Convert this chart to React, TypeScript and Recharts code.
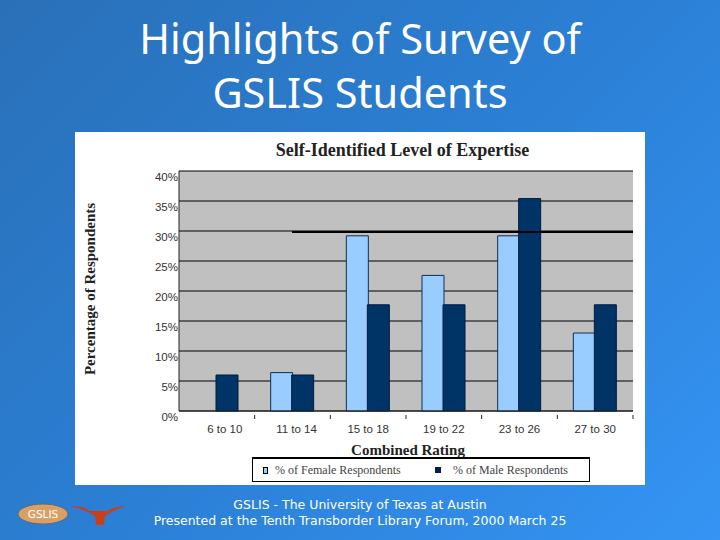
import React from "react";
import { BarChart, Bar, XAxis, YAxis, CartesianGrid, Legend, ReferenceLine } from "recharts";

const categories = ["6 to 10", "11 to 14", "15 to 18", "19 to 22", "23 to 26", "27 to 30"];
const femaleValues = [0, 6.4, 29.2, 22.6, 29.2, 13];
const maleValues = [6, 6, 17.7, 17.7, 35.4, 17.7];
const yTicks = [0, 5, 10, 15, 20, 25, 30, 35, 40];
const titleLines = ["Highlights of Survey of", "GSLIS Students"];
const footerLines = [
  "GSLIS - The University of Texas at Austin",
  "Presented at the Tenth Transborder Library Forum, 2000 March 25",
];
const FEMALE = "% of Female Respondents";
const MALE = "% of Male Respondents";

const data = categories.map((c, i) => ({ category: c, female: femaleValues[i], male: maleValues[i] }));

const BAND = 454 / 6;

const XTick = (props: any) => {
  const { x, y, payload } = props;
  const nudge = payload.index === 0 ? 8 : payload.index === 1 ? 4 : 0;
  return (
    <g>
      <line x1={x + BAND / 2} x2={x + BAND / 2} y1={y - 4} y2={y} stroke="#222" strokeWidth={1} />
      <text x={x + nudge} y={y + 14} textAnchor="middle" fontFamily="Liberation Sans" fontSize={11.5} fill="#333">
        {payload.value}
      </text>
    </g>
  );
};

const LegendBox = () => (
  <div
    style={{
      width: 336,
      height: 22,
      border: "1px solid #000",
      borderTopWidth: 2,
      background: "#fff",
      position: "relative",
      fontFamily: "Liberation Serif",
      fontSize: 12,
      color: "#444",
    }}
  >
    <span style={{ position: "absolute", left: 10, top: 8, width: 3, height: 5, background: "#99ccff", border: "1px solid #000", boxSizing: "content-box" }} />
    <span style={{ position: "absolute", left: 22, top: 4, whiteSpace: "nowrap" }}>{FEMALE}</span>
    <span style={{ position: "absolute", left: 182, top: 8, width: 6, height: 6, background: "#002050" }} />
    <span style={{ position: "absolute", left: 200, top: 4, whiteSpace: "nowrap" }}>{MALE}</span>
  </div>
);

const PartialLine = (props: any) => (
  <line x1={props.x1 + 113} x2={props.x2} y1={props.y1} y2={props.y2} stroke="#000" strokeWidth={2} />
);

export default function App() {
  return (
    <div
      style={{
        position: "absolute",
        left: 0,
        top: 0,
        width: 720,
        height: 540,
        overflow: "hidden",
        background: "linear-gradient(135deg, #2a70b8 0%, #2b7fd4 50%, #3594f4 100%)",
      }}
    >
      <div
        style={{
          position: "absolute",
          left: 0,
          top: 11,
          width: 720,
          textAlign: "center",
          color: "#fff",
          fontFamily: "Noto Sans",
          fontSize: 41.5,
          lineHeight: "54px",
        }}
      >
        {titleLines.map((t) => (
          <div key={t}>{t}</div>
        ))}
      </div>

      <div style={{ position: "absolute", left: 75, top: 132, width: 570, height: 353, background: "#fff" }}>
        <div
          style={{
            position: "absolute",
            left: 0,
            top: 8,
            width: 655,
            textAlign: "center",
            fontFamily: "Liberation Serif",
            fontWeight: "bold",
            fontSize: 18,
            color: "#222",
            whiteSpace: "nowrap",
          }}
        >
          Self-Identified Level of Expertise
        </div>
        <BarChart
          width={570}
          height={353}
          data={data}
          margin={{ top: 39, right: 12, bottom: 0, left: 0 }}
          barSize={22}
          barGap={-1}
          barCategoryGap={0}
        >
          <CartesianGrid vertical={false} stroke="#000" strokeWidth={1} fill="#c0c0c0" />
          <XAxis
            dataKey="category"
            axisLine={{ stroke: "#222" }}
            tickLine={false}
            tick={<XTick />}
            height={49}
            interval={0}
            label={{
              value: "Combined Rating",
              position: "insideTop",
              offset: 33,
              dx: 2,
              style: { fontFamily: "Liberation Serif", fontWeight: "bold", fontSize: 15, fill: "#222" },
            }}
          />
          <YAxis
            domain={[0, 40]}
            ticks={yTicks}
            width={104}
            axisLine={{ stroke: "#222" }}
            tickLine={false}
            tickMargin={0}
            dx={5}
            dy={6}
            tickFormatter={(v: number) => `${v}%`}
            tick={{ fontFamily: "Liberation Sans", fontSize: 11.5, fill: "#333" }}
            label={{
              value: "Percentage of Respondents",
              angle: -90,
              position: "insideLeft",
              offset: 15,
              dy: -2,
              style: { textAnchor: "middle", fontFamily: "Liberation Serif", fontWeight: "bold", fontSize: 15, fill: "#222" },
            }}
          />
          <ReferenceLine y={29.85} shape={<PartialLine />} />
          <Legend
            verticalAlign="bottom"
            content={<LegendBox />}
            wrapperStyle={{ position: "absolute", left: 177, top: 325, width: 338, bottom: "auto" }}
          />
          <Bar dataKey="female" name={FEMALE} fill="#99ccff" stroke="#103050" strokeWidth={1} isAnimationActive={false} />
          <Bar dataKey="male" name={MALE} fill="#003366" stroke="#001a40" strokeWidth={1} isAnimationActive={false} />
        </BarChart>
      </div>

      <svg style={{ position: "absolute", left: 0, top: 480 }} width={140} height={60}>
        <ellipse cx={43} cy={34} rx={25} ry={10} fill="#d9a066" stroke="#5a6a80" />
        <text x={43} y={38} textAnchor="middle" fontFamily="DejaVu Sans" fontSize={10.5} fill="#fff">GSLIS</text>
        <path
          d="M70 26 Q84 26 90 31 L108 31 Q114 26 126 26 Q116 29 110 33 L105 36 L104 45 L96 45 L95 36 L90 33 Q82 29 70 26Z"
          fill="#c8401a"
        />
      </svg>

      <div
        style={{
          position: "absolute",
          left: 0,
          top: 497,
          width: 720,
          textAlign: "center",
          color: "#fff",
          fontFamily: "DejaVu Sans",
          fontSize: 12.5,
          lineHeight: "16px",
        }}
      >
        {footerLines.map((t) => (
          <div key={t}>{t}</div>
        ))}
      </div>
    </div>
  );
}
